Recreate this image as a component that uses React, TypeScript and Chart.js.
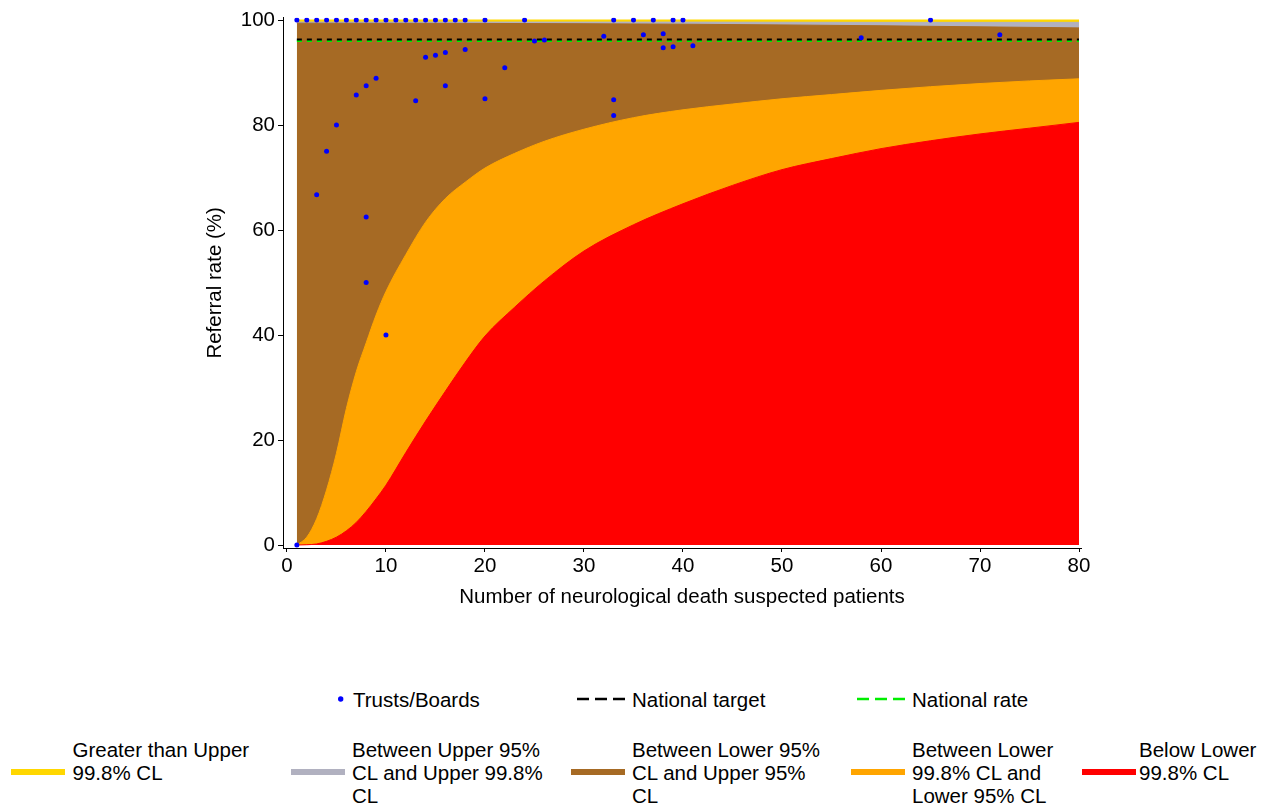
import React, { useEffect, useRef } from "react";
import { Chart, registerables } from "chart.js";

Chart.register(...registerables);

// ---- data ----
const xTicks = [0, 10, 20, 30, 40, 50, 60, 70, 80];
const yTicks = [0, 20, 40, 60, 80, 100];

// funnel limits (lower bounds)
const boundX = [1, 2, 3, 4, 5, 6, 7, 8, 9, 10, 12, 14, 16, 18, 20, 23, 26, 30, 35, 40, 45, 50, 55, 60, 65, 70, 75, 80];
const lower998 = [0, 0.05, 0.2, 0.7, 1.5, 2.7, 4.3, 6.4, 8.8, 11.4, 17.6, 23.6, 29.3, 34.8, 39.8, 45.3, 50.3, 56, 61, 65, 68.5, 71.5, 73.6, 75.5, 77, 78.3, 79.4, 80.5];
const lower95 = [0, 1.5, 5, 10.5, 17.5, 26, 33, 38.5, 43.8, 48.3, 55.3, 61.5, 66, 69.1, 71.8, 74.6, 76.9, 79.2, 81.4, 82.9, 84, 85, 85.8, 86.6, 87.3, 87.9, 88.4, 88.8];

// funnel limits (upper bounds)
const upperX = [1, 20, 40, 60, 80];
const upper95 = [99.4, 99.35, 99.2, 98.9, 98.5];
const upper998 = [99.6, 99.6, 99.6, 99.55, 99.55];
const topX = [1, 80];
const topY = [100, 100];

// Trusts/Boards
const dotX = [1, 2, 3, 4, 5, 6, 7, 8, 9, 10, 11, 12, 13, 14, 15, 16, 17, 18, 20, 24, 33, 35, 37, 39, 40, 65,
  1, 3, 4, 5, 7, 8, 8, 8, 9, 10, 13, 14, 15, 16, 16, 18, 20, 22, 25, 26, 32, 33, 33, 36, 38, 38, 39, 41, 58, 72];
const dotY = [100, 100, 100, 100, 100, 100, 100, 100, 100, 100, 100, 100, 100, 100, 100, 100, 100, 100, 100, 100, 100, 100, 100, 100, 100, 100,
  0, 66.7, 75, 80, 85.7, 87.5, 62.5, 50, 88.9, 40, 84.6, 92.9, 93.3, 93.8, 87.5, 94.4, 85, 90.9, 96, 96.2, 96.9, 84.8, 81.8, 97.2, 97.4, 94.7, 94.9, 95.1, 96.6, 97.2];

const lineX = [1, 80];
const nationalTarget = 96.3;
const nationalRate = 96.0;

const COLORS = {
  yellow: "#FFD700",
  grey: "#B1B1C0",
  brown: "#A66A24",
  orange: "#FFA500",
  red: "#FF0000",
  blue: "#0000FF",
  green: "#00EE00",
};

const FONT = "'Liberation Sans', Arial, Helvetica, sans-serif";
const FS = 20.5;

function pts(xs: number[], ys: number[]) {
  return xs.map((x, i) => ({ x, y: ys[i] }));
}

function band(label: string, xs: number[], ys: number[], color: string, order: number) {
  return {
    type: "line" as const,
    label,
    data: pts(xs, ys),
    backgroundColor: color,
    borderColor: color,
    borderWidth: 1,
    pointRadius: 0,
    fill: "origin",
    cubicInterpolationMode: "monotone" as const,
    order,
  };
}

export default function App() {
  const ref = useRef<HTMLCanvasElement | null>(null);

  useEffect(() => {
    if (!ref.current) return;
    const chart = new Chart(ref.current, {
      type: "line",
      data: {
        datasets: [
          {
            type: "scatter",
            label: "Trusts/Boards",
            data: pts(dotX, dotY),
            backgroundColor: COLORS.blue,
            borderWidth: 0,
            pointRadius: 2.5,
            order: 0,
          } as any,
          {
            type: "line",
            label: "National target",
            data: pts(lineX, [nationalTarget, nationalTarget]),
            borderColor: "#000000",
            borderWidth: 2,
            borderDash: [5, 5],
            pointRadius: 0,
            fill: false,
            order: 1,
          },
          {
            type: "line",
            label: "National rate",
            data: pts(lineX, [nationalRate, nationalRate]),
            borderColor: COLORS.green,
            borderWidth: 2,
            borderDash: [5, 5],
            pointRadius: 0,
            fill: false,
            order: 2,
          },
          band("Below Lower 99.8% CL", boundX, lower998, COLORS.red, 10),
          band("Between Lower 99.8% CL and Lower 95% CL", boundX, lower95, COLORS.orange, 11),
          band("Between Lower 95% CL and Upper 95% CL", upperX, upper95, COLORS.brown, 12),
          band("Between Upper 95% CL and Upper 99.8% CL", upperX, upper998, COLORS.grey, 13),
          band("Greater than Upper 99.8% CL", topX, topY, COLORS.yellow, 14),
        ] as any,
      },
      options: {
        animation: false,
        responsive: false,
        maintainAspectRatio: false,
        layout: { padding: { left: 199, right: 183, top: 17.7, bottom: 6.7 } },
        plugins: {
          legend: { display: false },
          tooltip: { enabled: false },
        },
        scales: {
          x: {
            type: "linear",
            min: -0.4,
            max: 80.2,
            afterBuildTicks: (s: any) => {
              s.ticks = xTicks.map((v) => ({ value: v }));
            },
            afterFit: (s: any) => {
              s.height = 65.3;
            },
            grid: { drawOnChartArea: false, color: "#000", tickColor: "#000", tickLength: 4 },
            border: { display: true, color: "#000", width: 1 },
            ticks: {
              color: "#000",
              padding: 6,
              maxRotation: 0,
              autoSkip: false,
              font: { family: FONT, size: FS, lineHeight: 0.8 },
            },
            title: {
              display: true,
              text: "Number of neurological death suspected patients",
              color: "#000",
              font: { family: FONT, size: FS },
              padding: { top: 0, bottom: 4 },
            },
          },
          y: {
            type: "linear",
            min: -0.57,
            max: 100.44,
            afterBuildTicks: (s: any) => {
              s.ticks = yTicks.map((v) => ({ value: v }));
            },
            afterFit: (s: any) => {
              s.width = 84;
            },
            grid: { drawOnChartArea: false, color: "#000", tickColor: "#000", tickLength: 5 },
            border: { display: true, color: "#000", width: 1 },
            ticks: {
              color: "#000",
              padding: 3,
              font: { family: FONT, size: FS },
            },
            title: {
              display: true,
              text: "Referral rate (%)",
              color: "#000",
              font: { family: FONT, size: FS },
              padding: { top: 4, bottom: 0 },
            },
          },
        },
      } as any,
    });
    return () => chart.destroy();
  }, []);

  const textStyle = (left: number, top: number): React.CSSProperties => ({
    position: "absolute",
    left,
    top,
    fontFamily: FONT,
    fontSize: FS,
    lineHeight: "23.3px",
    color: "#000",
    whiteSpace: "nowrap",
  });

  const swatch = (left: number, color: string): React.CSSProperties => ({
    position: "absolute",
    left,
    top: 768.7,
    width: 54,
    height: 6,
    background: color,
  });

  const row2Top = 737.6;
  const row1Top = 687.6;

  return (
    <div style={{ position: "absolute", left: 0, top: 0, width: 1264, height: 807, background: "#fff", overflow: "hidden" }}>
      <canvas ref={ref} width={1264} height={620} style={{ position: "absolute", left: 0, top: 0, width: 1264, height: 620 }} />

      {/* row 1 */}
      <svg style={{ position: "absolute", left: 0, top: 680, overflow: "visible" }} width={1264} height={40}>
        <circle cx={340.7} cy={19} r={2.7} fill={COLORS.blue} />
        <line x1={577} y1={19} x2={625} y2={19} stroke="#000" strokeWidth={2.5} strokeDasharray="12 6" />
        <line x1={857} y1={19} x2={905} y2={19} stroke={COLORS.green} strokeWidth={2.5} strokeDasharray="12 6" />
      </svg>
      <div style={textStyle(353, row1Top)}>Trusts/Boards</div>
      <div style={textStyle(632, row1Top)}>National target</div>
      <div style={textStyle(912, row1Top)}>National rate</div>

      {/* row 2 */}
      <div style={swatch(11, COLORS.yellow)} />
      <div style={textStyle(72.5, row2Top)}>Greater than Upper<br />99.8% CL</div>
      <div style={swatch(291, COLORS.grey)} />
      <div style={textStyle(352, row2Top)}>Between Upper 95%<br />CL and Upper 99.8%<br />CL</div>
      <div style={swatch(571, COLORS.brown)} />
      <div style={textStyle(632, row2Top)}>Between Lower 95%<br />CL and Upper 95%<br />CL</div>
      <div style={swatch(851, COLORS.orange)} />
      <div style={textStyle(912, row2Top)}>Between Lower<br />99.8% CL and<br />Lower 95% CL</div>
      <div style={swatch(1082, COLORS.red)} />
      <div style={textStyle(1139, row2Top)}>Below Lower<br />99.8% CL</div>
    </div>
  );
}
